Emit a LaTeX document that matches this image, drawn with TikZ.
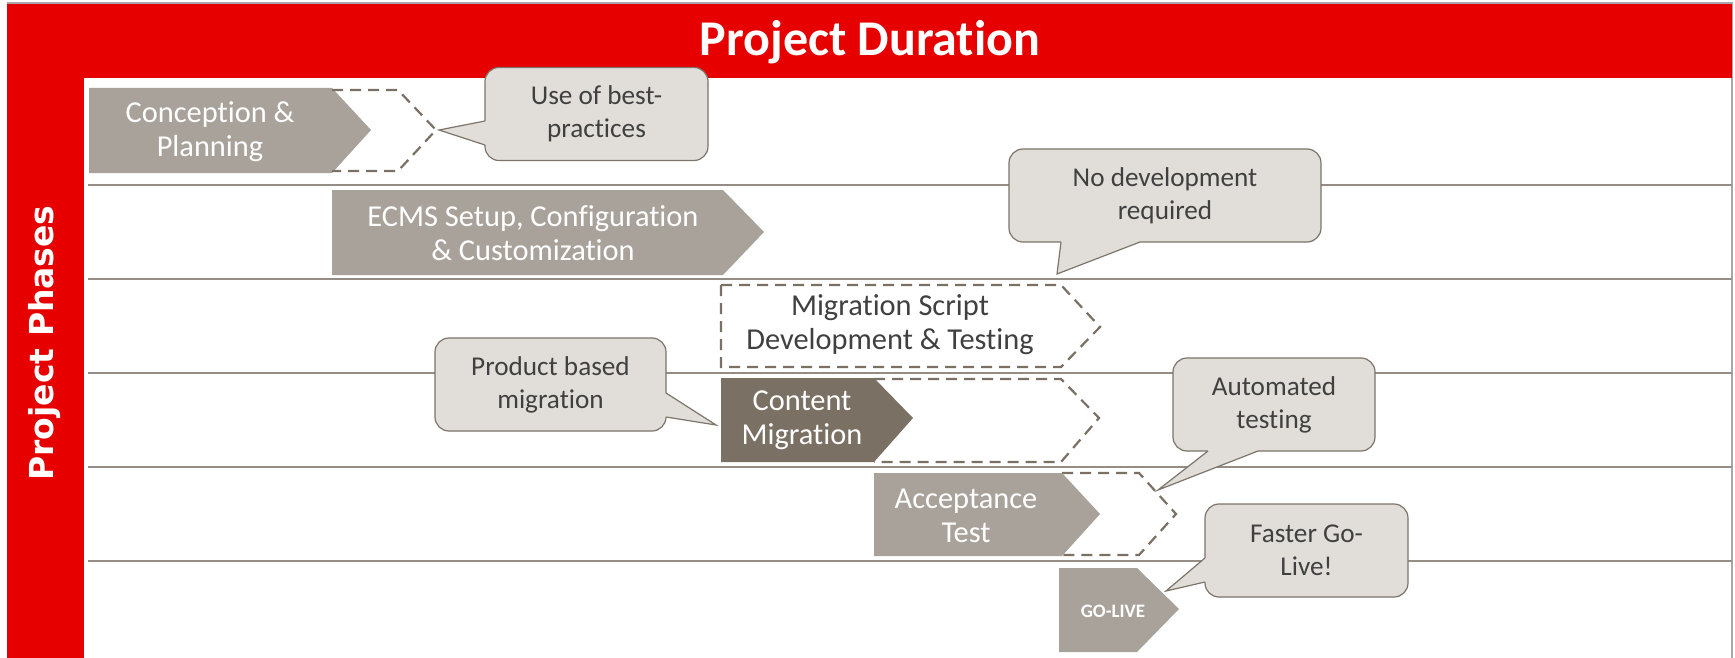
\documentclass[tikz,border=0pt]{standalone}
\usepackage{fontspec}
\setmainfont{Carlito}[Ligatures=NoCommon]
\newfontfamily\phasefont{DejaVu Sans}
\definecolor{hdred}{HTML}{E60000}
\definecolor{boxgray}{HTML}{A9A29B}
\definecolor{boxdark}{HTML}{7A7064}
\definecolor{calfill}{HTML}{E1DEDA}
\definecolor{caldraw}{HTML}{7D746A}
\definecolor{lanegray}{HTML}{958D85}
\definecolor{txtgray}{HTML}{404040}
\definecolor{frame}{HTML}{A8A8A8}
\tikzset{
  boxtext/.style={text=white, align=center, inner sep=0pt, font=\fontsize{15.2}{17}\selectfont},
  calbox/.style={fill=calfill, draw=caldraw, line width=0.6pt, rounded corners=7pt,
    text=txtgray, align=center, inner sep=0pt, minimum height=46.5pt,
    font=\fontsize{13.6}{16.5}\selectfont},
  ptrfill/.style={fill=calfill},
  ptredge/.style={draw=caldraw, line width=0.6pt, line join=miter},
  dashedge/.style={draw=boxdark, line width=1.1pt, dash pattern=on 5.5pt off 3.5pt},
  lane/.style={draw=lanegray, line width=0.7pt},
  solidlight/.style={fill=boxgray},
  soliddark/.style={fill=boxdark}
}
\begin{document}
\begin{tikzpicture}[x=0.5pt,y=-0.5pt]
\useasboundingbox (0,0) rectangle (1735,658);
% frame and header
\fill[white] (0,0) rectangle (1735,658);
\draw[frame, line width=0.6pt] (7,3) -- (1732,3) -- (1732,658);
\fill[hdred] (7,4) rectangle (1732,78);
\fill[hdred] (7,4) rectangle (84,658);
\node[text=white, font=\bfseries\fontsize{25}{27}\selectfont] (title) at (870,42) {Project Duration};
\node[text=white, rotate=90, font=\phasefont\bfseries\fontsize{16.5}{18}\selectfont] (phases) at (45,343) {Project Phases};
% lanes
\foreach \yy in {185,279,373,467,561} \draw[lane] (88,\yy) -- (1732,\yy);
% Conception & Planning
\fill[solidlight] (89,88) -- (332,88) -- (371,130) -- (332,173) -- (89,173) -- cycle;
\draw[dashedge] (332,90) -- (398,90) -- (436,130) -- (398,171) -- (332,171);
\node[boxtext] (conc) at (210,132) {Conception \&\\Planning};
% ECMS
\fill[solidlight] (332,190) -- (723,190) -- (764,232) -- (723,275) -- (332,275) -- cycle;
\node[boxtext] (ecms) at (533,233) {ECMS Setup, Configuration\\\& Customization};
% Migration script
\draw[dashedge] (721,285) -- (1061,285) -- (1100,327) -- (1061,367) -- (721,367) -- cycle;
\node[boxtext, text=txtgray] (mig) at (890,325) {Migration Script\\Development \& Testing};
% Content migration
\draw[dashedge] (874,379) -- (1061,379) -- (1099,418) -- (1061,462) -- (874,462);
\fill[soliddark] (721,378) -- (874,378) -- (913,418) -- (874,462) -- (721,462) -- cycle;
\node[boxtext] (cont) at (802,420) {Content\\Migration};
% Acceptance test
\draw[dashedge] (1062,473) -- (1139,473) -- (1176,514) -- (1139,555) -- (1062,555);
\fill[solidlight] (874,473) -- (1062,473) -- (1100,514) -- (1062,556) -- (874,556) -- cycle;
\node[boxtext] (acc) at (966,516) {Acceptance\\Test};
% Go-live
\fill[solidlight] (1059,568) -- (1137,568) -- (1179,609) -- (1137,652) -- (1059,652) -- cycle;
\node[text=white, font=\bfseries\fontsize{9.5}{10}\selectfont] (golive) at (1113,611) {GO-LIVE};
% callout: use of best-practices
\node[calbox, minimum width=111.5pt] (best) at (596.5,114) {Use of best-\\practices};
\fill[ptrfill] (485.5,121) -- (439,130) -- (485.5,145) -- (489,145) -- (489,121) -- cycle;
\draw[ptredge] (485,121) -- (439,130) -- (485,145);
% callout: no development required
\node[calbox, minimum width=156pt] (nodev) at (1165,195.5) {No development\\required};
\fill[ptrfill] (1061,241.5) -- (1057,274) -- (1140,241.5) -- (1140,238) -- (1061,238) -- cycle;
\draw[ptredge] (1061,242) -- (1057,274) -- (1140,242);
% callout: product based migration
\node[calbox, minimum width=115.5pt] (prod) at (550.5,384.5) {Product based\\migration};
\fill[ptrfill] (665.5,393) -- (716,425) -- (665.5,417) -- (662,417) -- (662,393) -- cycle;
\draw[ptredge] (666,393) -- (716,425) -- (666,417);
% callout: automated testing
\node[calbox, minimum width=101pt] (auto) at (1274,404.5) {Automated\\testing};
\fill[ptrfill] (1208,450.5) -- (1158,490) -- (1258,450.5) -- (1258,447) -- (1208,447) -- cycle;
\draw[ptredge] (1208,451) -- (1158,490) -- (1258,451);
% callout: faster go-live
\node[calbox, minimum width=101.5pt] (fast) at (1306.5,550.5) {Faster Go-\\Live!};
\fill[ptrfill] (1205.5,558) -- (1166,591) -- (1205.5,582) -- (1209,582) -- (1209,558) -- cycle;
\draw[ptredge] (1205,558) -- (1166,591) -- (1205,582);
\end{tikzpicture}
\end{document}
